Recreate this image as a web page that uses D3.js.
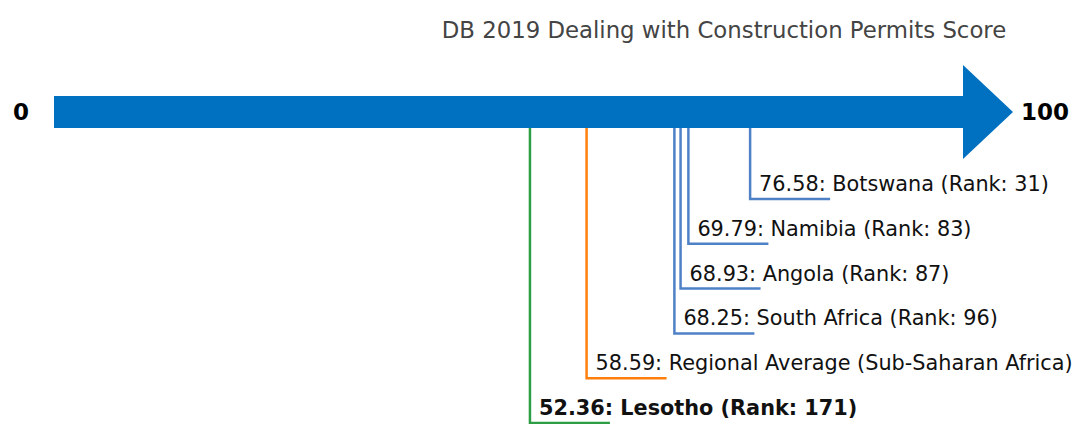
<!DOCTYPE html>
<html>
<head>
<meta charset="utf-8">
<script src="https://cdn.jsdelivr.net/npm/d3@7"></script>
<style>
	body { margin: 0; background: #fff; }
	text { font-family: "DejaVu Sans", sans-serif; }
</style>
</head>
<body>
<div id="chart"></div>
<script>

// data
var names = ["Botswana (Rank: 31)", "Namibia (Rank: 83)", "Angola (Rank: 87)",
	"South Africa (Rank: 96)", "Regional Average (Sub-Saharan Africa)", "Lesotho (Rank: 171)"];
var scores = [76.58, 69.79, 68.93, 68.25, 58.59, 52.36];
var kinds = ["peer", "peer", "peer", "peer", "avg", "focus"];
var endLabels = ["0", "100"];
var title = "DB 2019 Dealing with Construction Permits Score";

var width = 1075, height = 424;
var colors = { peer: "#4f81c7", avg: "#ff7f0e", focus: "#2e9e45" };

var svg = d3.select("#chart").append("svg")
	.attr("width", width)
	.attr("height", height);

// x: score onto the arrow, y: stacked label levels
var xScale = d3.scaleLinear().domain([0, 100]).range([54, 963]);
var yScale = d3.scaleLinear().domain([0, names.length - 1]).range([199, 423]);

var barTop = 96, barBot = 128, barMid = 112;

// title
svg.append("text")
	.attr("x", 724).attr("y", 38)
	.style("text-anchor", "middle")
	.style("font-size", "22.8px")
	.style("fill", "#444")
	.text(title);

// arrow
var x0 = xScale(0), x1 = xScale(100);
svg.append("path")
	.attr("d", "M" + x0 + "," + barTop + "L" + x1 + "," + barTop + "L" + x1 + ",65L1013," + barMid +
		"L" + x1 + ",159L" + x1 + "," + barBot + "L" + x0 + "," + barBot + "Z")
	.style("fill", "#0070c0");

// end labels
svg.append("text")
	.attr("x", 21).attr("y", barMid)
	.attr("dy", "0.35em")
	.style("text-anchor", "middle")
	.style("font-size", "23px").style("font-weight", "bold")
	.text(endLabels[0]);
svg.append("text")
	.attr("x", 1021).attr("y", barMid)
	.attr("dy", "0.35em")
	.style("font-size", "23px").style("font-weight", "bold")
	.text(endLabels[1]);

// leader lines
var rows = scores.map(function(s, i){ return { score: s, name: names[i], kind: kinds[i], i: i } });

var g = svg.append("g");
g.selectAll("path.leader")
	.data(rows).enter()
	.append("path")
		.attr("class", "leader")
		.attr("d", function(d){
			var x = xScale(d.score), y = yScale(d.i);
			return "M" + x + "," + barBot + "L" + x + "," + y + "L" + (x + 80) + "," + y;
		})
		.style("fill", "none")
		.style("stroke-width", 2.5)
		.style("stroke", function(d){ return colors[d.kind] });

// labels
g.selectAll("text.label")
	.data(rows).enter()
	.append("text")
		.attr("class", "label")
		.attr("x", function(d){ return xScale(d.score) + 9 })
		.attr("y", function(d){ return yScale(d.i) - 8 })
		.style("font-size", "20.8px")
		.style("font-weight", function(d){ return d.kind == "focus" ? "bold" : "normal" })
		.style("fill", "#111")
		.text(function(d){ return d.score.toFixed(2) + ": " + d.name });

</script>
</body>
</html>
